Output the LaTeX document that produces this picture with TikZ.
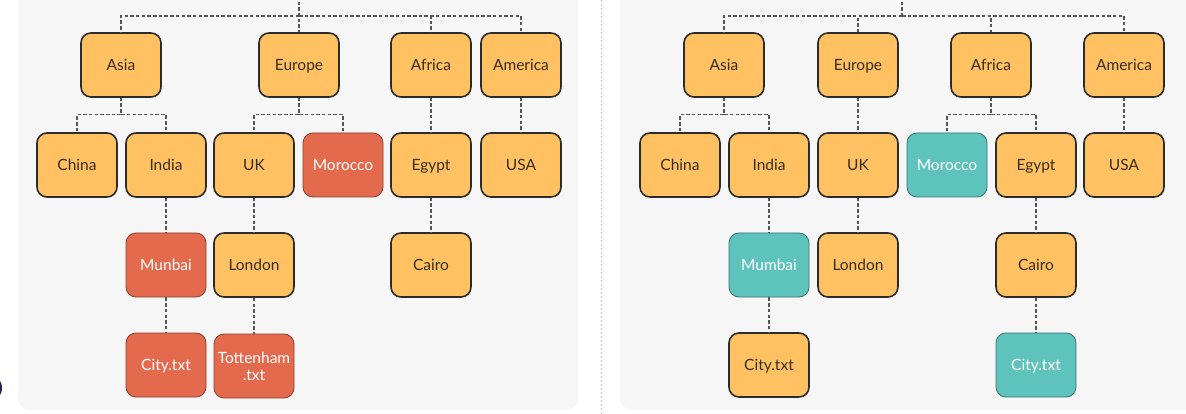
\documentclass[tikz,border=0pt]{standalone}
\usepackage{fontspec}
\setmainfont{Lato}
\usetikzlibrary{calc}
\definecolor{boxorange}{HTML}{FFC162}
\definecolor{boxred}{HTML}{E46A4E}
\definecolor{boxteal}{HTML}{5EC2BD}
\definecolor{panelgray}{HTML}{F6F6F7}
\definecolor{inkdark}{HTML}{2B2B2B}
\definecolor{txtdark}{HTML}{3A2E1F}

\begin{document}
\begin{tikzpicture}[x=1pt,y=-1pt,
    city/.style={draw=inkdark,line width=1.6pt,rounded corners=10pt,fill=boxorange,
      minimum width=80pt,minimum height=64pt,inner sep=2pt,text=txtdark,font=\fontsize{15.5}{16}\selectfont,
      align=center,text height=13pt,text depth=2pt},
    hitred/.style={city,fill=boxred,draw=boxred!60!black,line width=0.8pt,text=white},
    hitteal/.style={city,fill=boxteal,draw=boxteal!60!black,line width=0.8pt,text=white},
    link/.style={draw=inkdark!80,line width=1.3pt,dash pattern=on 3.5pt off 2.2pt}]
    \clip (0,0) rectangle (1186,414);
    \fill[white] (0,0) rectangle (1186,414);
    \fill[panelgray,rounded corners=12pt] (18,-20) rectangle (578,410);
    \fill[panelgray,rounded corners=12pt] (620,-20) rectangle (1200,410);
    \draw[black!22,line width=0.8pt,dash pattern=on 2pt off 2pt] (601,0) -- (601,414);
    \fill[inkdark!80!blue] (-12,388) circle (14);
    %% left tree
    \node[city] (asiaL) at (121,65) {Asia};
    \node[city] (europeL) at (299,65) {Europe};
    \node[city] (africaL) at (431,65) {Africa};
    \node[city] (americaL) at (521,65) {America};
    \node[city] (chinaL) at (77,165) {China};
    \node[city] (indiaL) at (166,165) {India};
    \node[city] (ukL) at (254,165) {UK};
    \node[hitred] (moroccoL) at (343,165) {Morocco};
    \node[city] (egyptL) at (431,165) {Egypt};
    \node[city] (usaL) at (521,165) {USA};
    \node[hitred] (mumbaiL) at (166,265) {Munbai};
    \node[city] (londonL) at (254,265) {London};
    \node[city] (cairoL) at (431,265) {Cairo};
    \node[hitred] (cityL) at (166,365) {City.txt};
    \node[hitred,text height={},text depth={}] (tottL) at (254,366) {Tottenham\\[1pt].txt};
    \coordinate (rootL) at (299,-4);
    \coordinate (busL) at (299,16);
    \draw[link] (rootL) -- (europeL.north);
    \draw[link] (busL) -| (asiaL.north);
    \draw[link] (busL) -| (africaL.north);
    \draw[link] (busL) -| (americaL.north);
    \draw[link] (asiaL.south) -- ++(0,17) -| (chinaL.north);
    \draw[link] (asiaL.south) -- ++(0,17) -| (indiaL.north);
    \draw[link] (europeL.south) -- ++(0,17) -| (ukL.north);
    \draw[link] (europeL.south) -- ++(0,17) -| (moroccoL.north);
    \draw[link] (africaL) -- (egyptL);
    \draw[link] (americaL) -- (usaL);
    \draw[link] (indiaL) -- (mumbaiL);
    \draw[link] (ukL) -- (londonL);
    \draw[link] (egyptL) -- (cairoL);
    \draw[link] (mumbaiL) -- (cityL);
    \draw[link] (londonL) -- (tottL);
    %% right tree
    \node[city] (asiaR) at (724,65) {Asia};
    \node[city] (europeR) at (858,65) {Europe};
    \node[city] (africaR) at (991,65) {Africa};
    \node[city] (americaR) at (1124,65) {America};
    \node[city] (chinaR) at (680,165) {China};
    \node[city] (indiaR) at (769,165) {India};
    \node[city] (ukR) at (858,165) {UK};
    \node[hitteal] (moroccoR) at (947,165) {Morocco};
    \node[city] (egyptR) at (1036,165) {Egypt};
    \node[city] (usaR) at (1124,165) {USA};
    \node[hitteal] (mumbaiR) at (769,265) {Mumbai};
    \node[city] (londonR) at (858,265) {London};
    \node[city] (cairoR) at (1036,265) {Cairo};
    \node[city] (cityR) at (769,365) {City.txt};
    \node[hitteal] (cairotxtR) at (1036,365) {City.txt};
    \coordinate (rootR) at (902,-4);
    \coordinate (busR) at (902,16);
    \draw[link] (rootR) -- (busR);
    \draw[link] (busR) -| (asiaR.north);
    \draw[link] (busR) -| (europeR.north);
    \draw[link] (busR) -| (africaR.north);
    \draw[link] (busR) -| (americaR.north);
    \draw[link] (asiaR.south) -- ++(0,17) -| (chinaR.north);
    \draw[link] (asiaR.south) -- ++(0,17) -| (indiaR.north);
    \draw[link] (europeR) -- (ukR);
    \draw[link] (africaR.south) -- ++(0,17) -| (moroccoR.north);
    \draw[link] (africaR.south) -- ++(0,17) -| (egyptR.north);
    \draw[link] (americaR) -- (usaR);
    \draw[link] (indiaR) -- (mumbaiR);
    \draw[link] (ukR) -- (londonR);
    \draw[link] (egyptR) -- (cairoR);
    \draw[link] (mumbaiR) -- (cityR);
    \draw[link] (cairoR) -- (cairotxtR);
\end{tikzpicture}
\end{document}
